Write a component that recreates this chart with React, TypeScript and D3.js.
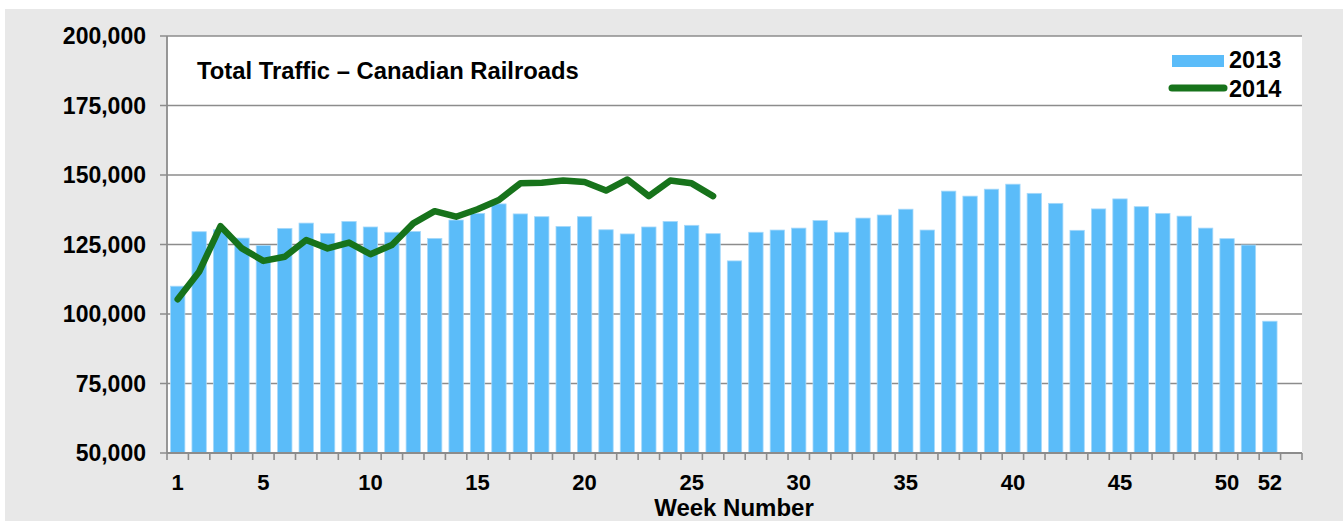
import React from "react";
import * as d3 from "d3";

// week numbers on the x axis (53 slots, the last one is empty)
const weeks = [
  1, 2, 3, 4, 5, 6, 7, 8, 9, 10, 11, 12, 13, 14, 15, 16, 17, 18, 19, 20, 21,
  22, 23, 24, 25, 26, 27, 28, 29, 30, 31, 32, 33, 34, 35, 36, 37, 38, 39, 40,
  41, 42, 43, 44, 45, 46, 47, 48, 49, 50, 51, 52, 53,
];

const traffic2013 = [
  110000, 129600, 130300, 127300, 124600, 130800, 132700, 129000, 133300,
  131300, 129400, 129700, 127200, 133800, 136200, 139600, 136000, 135000,
  131500, 135000, 130300, 128800, 131300, 133300, 131900, 128900, 119100,
  129400, 130200, 130900, 133600, 129400, 134500, 135600, 137700, 130200,
  144200, 142400, 144900, 146700, 143400, 139800, 130100, 137800, 141400,
  138600, 136200, 135200, 130900, 127100, 124800, 97400,
];

const traffic2014 = [
  105300, 115200, 131600, 123600, 119100, 120600, 126600, 123600, 125700,
  121500, 124800, 132600, 137000, 135000, 137700, 141000, 147000, 147200,
  148000, 147500, 144400, 148400, 142400, 148000, 147000, 142400,
];

const yTicks = [50000, 75000, 100000, 125000, 150000, 175000, 200000];
const xLabels = [1, 5, 10, 15, 20, 25, 30, 35, 40, 45, 50, 52];

const W = 1343;
const H = 521;
const margin = { top: 36, right: 41, bottom: 68, left: 167 };
const FONT = "'Liberation Sans', Arial, Helvetica, sans-serif";
const BAR = "#5bbcf9";
const GREEN = "#17731b";
const GRID = "#8c8c8c";

function App() {
  const x = d3
    .scaleBand<number>()
    .domain(weeks)
    .range([margin.left, W - margin.right])
    .paddingInner(0.33)
    .paddingOuter(0.165);

  const y = d3
    .scaleLinear()
    .domain([50000, 200000])
    .range([H - margin.bottom, margin.top]);

  const step = x.step();
  const cx = (w: number) => (x(w) ?? 0) + x.bandwidth() / 2;
  const fmt = d3.format(",");

  const line = d3
    .line<number>()
    .x((d, i) => cx(weeks[i]))
    .y((d) => y(d));

  const bottom = H - margin.bottom;
  const boundaries = weeks.map((w) => cx(w) - step / 2).concat(cx(53) + step / 2);

  return (
    <svg
      width={W}
      height={H}
      style={{ position: "absolute", left: 0, top: 0, display: "block" }}
      fontFamily={FONT}
      fontWeight="bold"
    >
      <rect x={0} y={0} width={W} height={H} fill="#ffffff" />
      <rect x={5} y={9} width={W - 5} height={H - 9} fill="#e8e8e8" />
      <rect
        x={margin.left}
        y={margin.top}
        width={W - margin.left - margin.right}
        height={bottom - margin.top}
        fill="#ffffff"
      />

      {/* gridlines and y ticks */}
      {yTicks.map((t) => (
        <g key={t}>
          <line
            x1={margin.left - 7}
            x2={W - margin.right}
            y1={y(t)}
            y2={y(t)}
            stroke={GRID}
            strokeWidth={1.6}
          />
          <text
            x={146}
            y={y(t) + 8}
            textAnchor="end"
            fontSize={23}
            fill="#000"
          >
            {fmt(t)}
          </text>
        </g>
      ))}

      {/* bars 2013 */}
      {traffic2013.map((v, i) => (
        <rect
          key={i}
          x={x(weeks[i])}
          y={y(v)}
          width={x.bandwidth()}
          height={bottom - y(v)}
          fill={BAR}
          stroke="#a6d9fa"
          strokeWidth={0.8}
        />
      ))}

      {/* axes lines */}
      <line
        x1={margin.left}
        x2={margin.left}
        y1={margin.top}
        y2={bottom}
        stroke={GRID}
        strokeWidth={1.8}
      />
      <line
        x1={margin.left}
        x2={W - margin.right}
        y1={bottom}
        y2={bottom}
        stroke={GRID}
        strokeWidth={1.8}
      />
      {boundaries.map((b, i) => (
        <line
          key={i}
          x1={b}
          x2={b}
          y1={bottom}
          y2={bottom + 7}
          stroke={GRID}
          strokeWidth={1.6}
        />
      ))}

      {/* line 2014 */}
      <path
        d={line(traffic2014) ?? ""}
        fill="none"
        stroke={GREEN}
        strokeWidth={6.5}
        strokeLinejoin="round"
        strokeLinecap="round"
      />

      {/* x labels */}
      {xLabels.map((w) => (
        <text
          key={w}
          x={cx(w)}
          y={490}
          textAnchor="middle"
          fontSize={22}
          fill="#000"
        >
          {w}
        </text>
      ))}
      <text x={734} y={516} textAnchor="middle" fontSize={24} fill="#000">
        Week Number
      </text>

      {/* title */}
      <text x={197} y={79} fontSize={23.8} fill="#000">
        Total Traffic – Canadian Railroads
      </text>

      {/* legend */}
      <rect x={1172} y={55} width={52} height={12} fill={BAR} />
      <text x={1229} y={68} fontSize={23.5} fill="#000">
        2013
      </text>
      <line
        x1={1172}
        x2={1224}
        y1={88}
        y2={88}
        stroke={GREEN}
        strokeWidth={7}
        strokeLinecap="round"
      />
      <text x={1229} y={97} fontSize={23.5} fill="#000">
        2014
      </text>
    </svg>
  );
}

export default App;
